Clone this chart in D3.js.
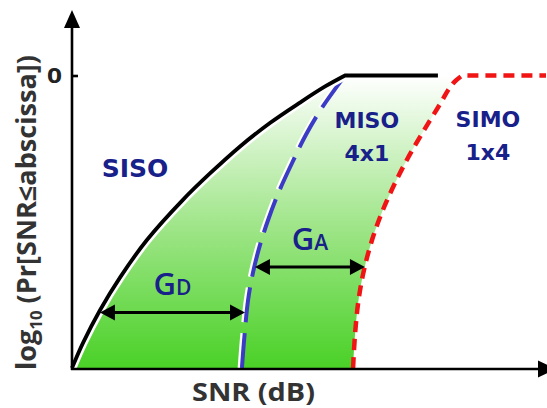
<!DOCTYPE html>
<html>
<head>
<meta charset="utf-8">
<script src="https://cdn.jsdelivr.net/npm/d3@7"></script>
<style>
  html, body { margin: 0; padding: 0; background: #fff; }
  svg { display: block; }
</style>
</head>
<body>
<svg id="chart" width="547" height="408"></svg>
<script>
// SNR in arbitrary dB units, y = log10 of the outage probability
const sisoSNR  = [0, 0.46, 1.18, 2.03, 3.16, 4.68, 5.82, 7.09, 8.35, 9.62, 10.68, 11.52, 15.44];
const sisoLogP = [-4, -3.66, -3.21, -2.76, -2.25, -1.70, -1.34, -0.97, -0.65, -0.37, -0.15, 0, 0];

const misoSNR  = [7.17, 7.28, 7.43, 7.64, 7.93, 8.27, 8.73, 9.28, 9.87, 10.55, 11.52, 15.44];
const misoLogP = [-4, -3.55, -3.07, -2.69, -2.32, -1.98, -1.59, -1.20, -0.81, -0.44, 0, 0];

const simoSNR  = [11.86, 11.94, 12.09, 12.32, 12.66, 13.08, 13.63, 14.22, 14.85, 15.53, 15.91, 16.16, 16.46, 20];
const simoLogP = [-4, -3.55, -3.07, -2.66, -2.25, -1.87, -1.47, -1.10, -0.75, -0.39, -0.18, -0.08, 0, 0];

// gains: label, subscript, level, start and end SNR
const gainNames = ["G", "G"];
const gainSubs  = ["D", "A"];
const gainLevel = [-3.24, -2.62];
const gainFrom  = [1.18, 7.72];
const gainTo    = [7.30, 12.36];

const yTicks = [0];
const yTickLabels = ["0"];

const svg = d3.select("#chart");
const x = d3.scaleLinear().domain([0, 20]).range([72, 546]);
const y = d3.scaleLinear().domain([-4, 0]).range([368, 75.5]);

const pts = (xs, ys) => xs.map((v, i) => [x(v), y(ys[i])]);
const siso = pts(sisoSNR, sisoLogP);
const miso = pts(misoSNR, misoLogP);
const simo = pts(simoSNR, simoLogP);

// smooth rise up to the first point at log P = 0, straight plateau after it
const smooth = d3.line().curve(d3.curveCatmullRom.alpha(0.5));
const cornerAt = ys => ys.indexOf(0);
function curvePath(p, ys) {
  const k = cornerAt(ys);
  return smooth(p.slice(0, k + 1)) + p.slice(k + 1).map(q => `L${q[0]},${q[1]}`).join("");
}

// green gradient region between the SISO and SIMO curves
const defs = svg.append("defs");
const grad = defs.append("linearGradient")
  .attr("id", "gainFill").attr("gradientUnits", "userSpaceOnUse")
  .attr("x1", 0).attr("x2", 0).attr("y1", y(0)).attr("y2", y(-4));
grad.append("stop").attr("offset", "0%").attr("stop-color", "#ffffff");
grad.append("stop").attr("offset", "50%").attr("stop-color", "#a2e68c");
grad.append("stop").attr("offset", "100%").attr("stop-color", "#4ad127");

const sisoRise = siso.slice(0, cornerAt(sisoLogP) + 1);
const simoRise = simo.slice(0, cornerAt(simoLogP) + 1).reverse();
svg.append("path")
  .attr("d", smooth(sisoRise) + "L" + smooth(simoRise).slice(1) + "Z")
  .attr("fill", "url(#gainFill)");

// MISO curve (blue dashed) with a light edge
svg.append("path").attr("d", curvePath(miso, misoLogP))
  .attr("fill", "none").attr("stroke", "#ffffff").attr("stroke-width", 3)
  .attr("stroke-dasharray", "35,11").attr("transform", "translate(-2.8,0)");
svg.append("path").attr("d", curvePath(miso, misoLogP))
  .attr("fill", "none").attr("stroke", "#3b3bc6").attr("stroke-width", 4)
  .attr("stroke-dasharray", "35,11");

// SIMO curve (red dotted)
svg.append("path").attr("d", curvePath(simo, simoLogP))
  .attr("fill", "none").attr("stroke", "#f01414").attr("stroke-width", 4.5)
  .attr("stroke-dasharray", "11,7");

// SISO curve (black) with white halo
svg.append("path").attr("d", curvePath(siso, sisoLogP))
  .attr("fill", "none").attr("stroke", "#ffffff").attr("stroke-width", 9);
svg.append("path").attr("d", curvePath(siso, sisoLogP))
  .attr("fill", "none").attr("stroke", "#000").attr("stroke-width", 3.8);

// axes with arrowheads
const x0 = x(0), yB = y(-4) + 1;
const axisG = svg.append("g");
axisG.append("line").attr("x1", x0).attr("x2", x0).attr("y1", yB + 1).attr("y2", 24)
  .attr("stroke", "#000").attr("stroke-width", 2.6);
axisG.append("line").attr("x1", x0 - 1).attr("x2", 540).attr("y1", yB).attr("y2", yB)
  .attr("stroke", "#000").attr("stroke-width", 2.6);
axisG.append("path").attr("d", `M${x0},10 L${x0 - 8},28 L${x0 + 8},28 Z`).attr("fill", "#000");
axisG.append("path").attr("d", `M556,${yB} L538,${yB - 8.5} L538,${yB + 8.5} Z`).attr("fill", "#000");

const yAxis = d3.axisLeft(y).tickValues(yTicks)
  .tickFormat((d, i) => yTickLabels[i]).tickSizeInner(-6).tickSizeOuter(0).tickPadding(10);
const ya = svg.append("g").attr("transform", `translate(${x0},0)`).call(yAxis);
ya.select(".domain").remove();
ya.selectAll(".tick line").attr("stroke", "#000").attr("stroke-width", 2.6);
ya.selectAll(".tick text").attr("font-family", "Open Sans").attr("font-weight", 700)
  .attr("font-size", 21).attr("fill", "#222")
  .attr("textLength", 15).attr("lengthAdjust", "spacingAndGlyphs");

// axis titles
svg.append("text").attr("x", 192).attr("y", 401)
  .attr("font-family", "Open Sans").attr("font-weight", 700).attr("font-size", 25)
  .attr("fill", "#333").attr("textLength", 123).attr("lengthAdjust", "spacingAndGlyphs")
  .text("SNR (dB)");

const yt = svg.append("text").attr("transform", "translate(36,370) rotate(-90)")
  .attr("font-family", "Open Sans").attr("font-weight", 700)
  .attr("font-size", 26).attr("fill", "#333")
  .attr("textLength", 315).attr("lengthAdjust", "spacingAndGlyphs");
yt.append("tspan").text("log");
yt.append("tspan").attr("font-size", 16).attr("dy", 6).text("10");
yt.append("tspan").attr("dy", -6).text(" (Pr[SNR≤abscissa])");

// curve names
const navy = "#18208a";
const curveLabels = [
  { lines: ["SISO"], sx: 2.66, ly: -1.39, size: 25 },
  { lines: ["MISO", "4x1"], sx: 12.44, ly: -0.72, size: 22 },
  { lines: ["SIMO", "1x4"], sx: 17.55, ly: -0.70, size: 22 }
];
curveLabels.forEach(c => {
  c.lines.forEach((t, i) => {
    svg.append("text").attr("x", x(c.sx)).attr("y", y(c.ly) + i * 33)
      .attr("text-anchor", "middle").attr("font-family", "DejaVu Sans")
      .attr("font-weight", 700).attr("font-size", c.size).attr("fill", navy).text(t);
  });
});

// gain arrows
gainNames.forEach((g, i) => {
  const yy = y(gainLevel[i]), xa = x(gainFrom[i]), xb = x(gainTo[i]);
  svg.append("line").attr("x1", xa + 10).attr("x2", xb - 10).attr("y1", yy).attr("y2", yy)
    .attr("stroke", "#000").attr("stroke-width", 3);
  svg.append("path").attr("d", `M${xa},${yy} L${xa + 15},${yy - 8} L${xa + 15},${yy + 8} Z`).attr("fill", "#000");
  svg.append("path").attr("d", `M${xb},${yy} L${xb - 15},${yy - 8} L${xb - 15},${yy + 8} Z`).attr("fill", "#000");
  const t = svg.append("text").attr("x", (xa + xb) / 2).attr("y", yy - 17)
    .attr("text-anchor", "middle").attr("font-family", "Open Sans").attr("font-weight", 600)
    .attr("font-size", 31).attr("fill", navy);
  t.append("tspan").text(g);
  t.append("tspan").attr("font-size", 21).text(gainSubs[i]);
});
</script>
</body>
</html>
